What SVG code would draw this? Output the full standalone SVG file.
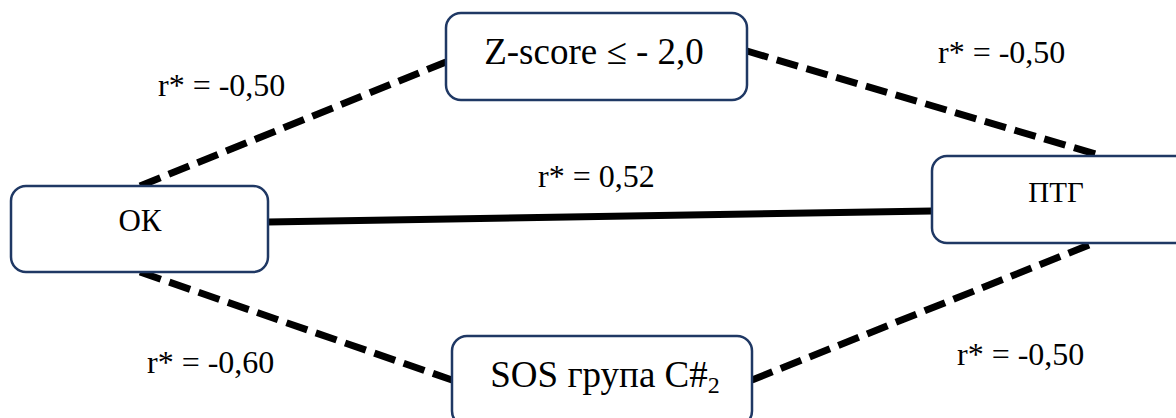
<svg xmlns="http://www.w3.org/2000/svg" width="1176" height="418" viewBox="0 0 1176 418">
  <style>
    .box { fill: #ffffff; stroke: #1f3864; stroke-width: 2.5; }
    .node { font-family: 'Liberation Serif', 'DejaVu Serif', serif; fill: #000; text-anchor: middle; }
    .lbl { font-family: 'Liberation Serif', 'DejaVu Serif', serif; font-size: 32px; fill: #000; }
    .dash { stroke: #000; stroke-width: 7; stroke-dasharray: 22 9; fill: none; }
    .solid { stroke: #000; stroke-width: 7; fill: none; }
  </style>
  <rect width="1176" height="418" fill="#ffffff"/>
  <g id="connectors">
    <line class="dash" x1="140" y1="186" x2="446" y2="62"/>
    <line class="dash" x1="747" y1="51" x2="1102" y2="156"/>
    <line class="dash" x1="140" y1="272" x2="452" y2="380"/>
    <line class="dash" x1="752" y1="380" x2="1094" y2="243"/>
    <line class="solid" x1="268" y1="222" x2="932" y2="211"/>
  </g>
  <g id="node-zscore">
    <rect class="box" x="446" y="13" width="301" height="87" rx="15"/>
    <text class="node" x="594" y="64" font-size="37">Z-score ≤ - 2,0</text>
  </g>
  <g id="node-ok">
    <rect class="box" x="11" y="186" width="257" height="86" rx="15"/>
    <text class="node" x="140" y="231" font-size="31">ОК</text>
  </g>
  <g id="node-ptg">
    <rect class="box" x="932" y="156" width="260" height="87" rx="15"/>
    <text class="node" x="1056" y="202" font-size="29">ПТГ</text>
  </g>
  <g id="node-sos">
    <rect class="box" x="452" y="336" width="300" height="90" rx="15"/>
    <text class="node" x="605" y="387" font-size="37">SOS група C#<tspan font-size="24" dy="6">2</tspan></text>
  </g>
  <g id="labels">
    <text class="lbl" x="158" y="96">r* = -0,50</text>
    <text class="lbl" x="938" y="63">r* = -0,50</text>
    <text class="lbl" x="538" y="187">r* = 0,52</text>
    <text class="lbl" x="147" y="373">r* = -0,60</text>
    <text class="lbl" x="957" y="365">r* = -0,50</text>
  </g>
</svg>
